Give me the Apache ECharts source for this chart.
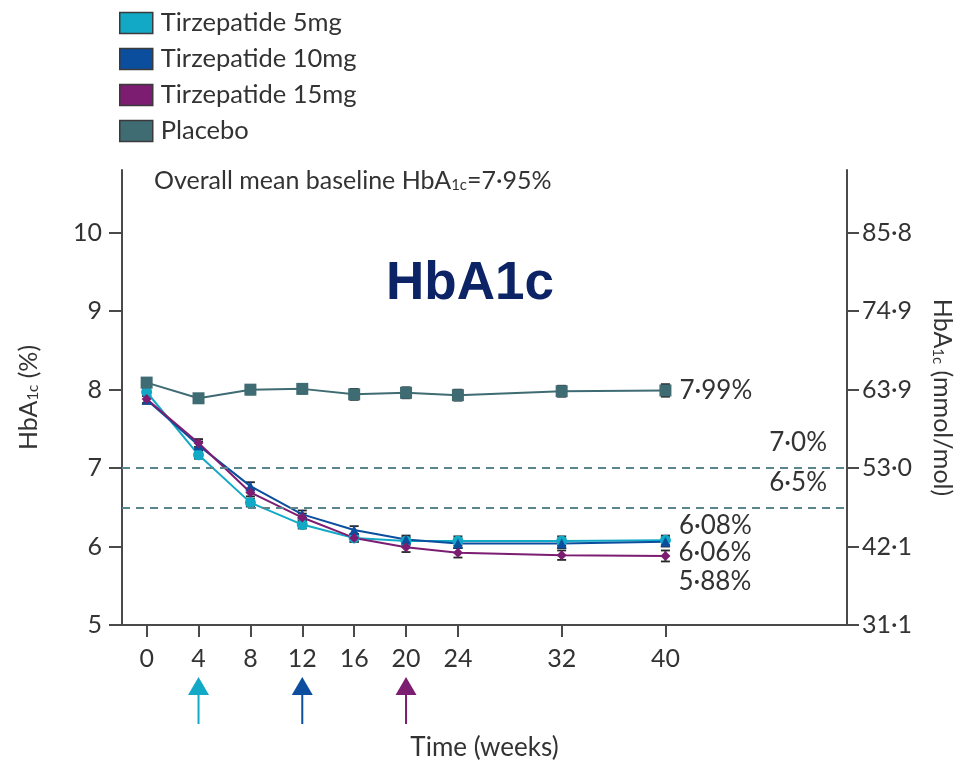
<!DOCTYPE html>
<html>
<head>
<meta charset="utf-8">
<script src="https://cdn.jsdelivr.net/npm/echarts@6/dist/echarts.min.js"></script>
<style>
  html, body { margin: 0; padding: 0; background: #fff; }
  #chart { width: 964px; height: 764px; }
</style>
</head>
<body>
<div id="chart"></div>
<script>
// HbA1c over 40 weeks, mean (± SE) per treatment arm
const weeks = [0, 4, 8, 12, 16, 20, 24, 32, 40];
const placebo = [8.09, 7.89, 8.00, 8.01, 7.94, 7.96, 7.93, 7.98, 7.99];
const tzp5    = [7.97, 7.17, 6.56, 6.28, 6.11, 6.07, 6.07, 6.07, 6.08];
const tzp10   = [7.87, 7.29, 6.77, 6.41, 6.21, 6.09, 6.04, 6.04, 6.06];
const tzp15   = [7.88, 7.32, 6.69, 6.37, 6.11, 5.99, 5.92, 5.89, 5.88];
const sePlacebo = [0.06, 0.05, 0.06, 0.06, 0.07, 0.07, 0.07, 0.07, 0.08];
const se5       = [0.05, 0.05, 0.05, 0.05, 0.05, 0.05, 0.06, 0.06, 0.06];
const se10      = [0.05, 0.05, 0.05, 0.05, 0.05, 0.05, 0.06, 0.06, 0.06];
const se15      = [0.05, 0.05, 0.05, 0.05, 0.05, 0.06, 0.06, 0.06, 0.07];

const yTicks = [5, 6, 7, 8, 9, 10];
const mmolTicks = ['31·1', '42·1', '53·0', '63·9', '74·9', '85·8'];
const targetLines = [7.0, 6.5];
const doseStartWeeks = [4, 12, 20];

const FONT = 'Lato';
const TXT = '#333333';
const AXIS = '#4a4a4a';

const arms = [
  { name: 'Tirzepatide 5mg',  vals: tzp5,    se: se5,       color: '#12a9c7', symbol: 'circle',   size: 11, off: -15 },
  { name: 'Tirzepatide 10mg', vals: tzp10,   se: se10,      color: '#0b4e9e', symbol: 'triangle', size: 10, off: 11 },
  { name: 'Tirzepatide 15mg', vals: tzp15,   se: se15,      color: '#7c1d72', symbol: 'diamond',  size: 10, off: 26 },
  { name: 'Placebo',          vals: placebo, se: sePlacebo, color: '#3f6b73', symbol: 'rect',     size: 12, off: 0 }
];

const fmtPct = (v, d) => v.toFixed(d).replace('.', '·') + '%';

const series = [];

// error bars (drawn beneath the markers)
arms.forEach(a => {
  series.push({
    type: 'custom',
    name: a.name + ' SE',
    z: 2,
    clip: false,
    data: weeks.map((w, i) => [w, a.vals[i] - a.se[i], a.vals[i] + a.se[i]]),
    renderItem: (params, api) => {
      const lo = api.coord([api.value(0), api.value(1)]);
      const hi = api.coord([api.value(0), api.value(2)]);
      const hw = 4.5;
      const st = { stroke: '#262626', lineWidth: 1.8 };
      return {
        type: 'group',
        children: [
          { type: 'line', shape: { x1: lo[0], y1: lo[1], x2: hi[0], y2: hi[1] }, style: st },
          { type: 'line', shape: { x1: lo[0] - hw, y1: lo[1], x2: lo[0] + hw, y2: lo[1] }, style: st },
          { type: 'line', shape: { x1: hi[0] - hw, y1: hi[1], x2: hi[0] + hw, y2: hi[1] }, style: st }
        ]
      };
    }
  });
});

// mean lines with end-of-study labels
arms.forEach(a => {
  const last = weeks.length - 1;
  series.push({
    type: 'line',
    name: a.name,
    z: 3,
    symbol: a.symbol,
    symbolSize: a.size,
    showAllSymbol: true,
    lineStyle: { color: a.color, width: 2 },
    itemStyle: { color: a.color },
    emphasis: { disabled: true },
    data: weeks.map((w, i) => {
      if (i !== last) return [w, a.vals[i]];
      return {
        value: [w, a.vals[i]],
        label: {
          show: true,
          position: 'right',
          distance: 8,
          offset: [0, a.off],
          formatter: p => fmtPct(p.value[1], 2),
          color: TXT,
          fontFamily: FONT,
          fontSize: 26
        }
      };
    }),
    markLine: a.name === 'Placebo' ? {
      silent: true,
      symbol: 'none',
      lineStyle: { color: '#5b858c', type: [8, 6], width: 2 },
      label: {
        position: 'insideEndTop',
        distance: [20, 12],
        formatter: p => fmtPct(p.value, 1),
        color: TXT,
        fontFamily: FONT,
        fontSize: 26
      },
      data: targetLines.map(v => ({ yAxis: v }))
    } : undefined
  });
});

// arrows marking the start of each maintenance dose
const arrowColors = ['#12a9c7', '#0b4e9e', '#7c1d72'];
series.push({
  type: 'custom',
  name: 'dose arrows',
  clip: false,
  z: 5,
  data: doseStartWeeks.map((w, i) => [w, 5, i]),
  renderItem: (params, api) => {
    const p = api.coord([api.value(0), api.value(1)]);
    const c = arrowColors[api.value(2)];
    const top = p[1] + 52, headB = p[1] + 70, bot = p[1] + 99;
    return {
      type: 'group',
      children: [
        { type: 'polygon', shape: { points: [[p[0], top], [p[0] - 10.5, headB], [p[0] + 10.5, headB]] }, style: { fill: c } },
        { type: 'line', shape: { x1: p[0], y1: headB, x2: p[0], y2: bot }, style: { stroke: c, lineWidth: 2 } }
      ]
    };
  }
});

const axisLabelBase = { color: TXT, fontFamily: FONT, fontSize: 25 };
const nameRich = {
  a: { color: TXT, fontFamily: FONT, fontSize: 25 },
  s: { color: TXT, fontFamily: FONT, fontSize: 15, verticalAlign: 'bottom', padding: [9, 0, 0, 0] }
};

const option = {
  animation: false,
  backgroundColor: '#ffffff',
  title: {
    text: 'HbA1c',
    left: 386,
    top: 258,
    padding: 0,
    textStyle: { fontFamily: 'Liberation Sans', fontWeight: 'bold', fontSize: 53, color: '#0c2365' }
  },
  legend: {
    orient: 'vertical',
    left: 119,
    top: 10,
    padding: 0,
    itemWidth: 33,
    itemHeight: 21,
    itemGap: 10,
    icon: 'rect',
    selectedMode: false,
    itemStyle: { borderColor: '#3a3a3a', borderWidth: 1.5 },
    textStyle: { color: TXT, fontFamily: FONT, fontSize: 25.5, padding: [0, 0, 0, 3] },
    data: arms.map(a => a.name)
  },
  graphic: [{
    type: 'text',
    left: 154,
    top: 168,
    style: {
      text: '{a|Overall mean baseline HbA}{s|1c}{a|=7·95%}',
      rich: {
        a: { fontFamily: FONT, fontSize: 25, fill: TXT },
        s: { fontFamily: FONT, fontSize: 15, fill: TXT, verticalAlign: 'bottom', padding: [9, 0, 0, 0] }
      }
    }
  }],
  grid: { left: 122, right: 117, top: 170, bottom: 139, containLabel: false, outerBoundsMode: 'none' },
  xAxis: {
    type: 'value',
    min: -1.9,
    max: 54,
    name: 'Time (weeks)',
    nameLocation: 'middle',
    nameGap: 110,
    nameMoveOverlap: false,
    nameTextStyle: { color: TXT, fontFamily: FONT, fontSize: 26 },
    splitLine: { show: false },
    axisLine: { onZero: false, lineStyle: { color: AXIS, width: 2 } },
    axisTick: { customValues: weeks, length: 12, lineStyle: { color: AXIS, width: 2 } },
    axisLabel: Object.assign({ customValues: weeks, margin: 21 }, axisLabelBase)
  },
  yAxis: [{
    type: 'value',
    min: 5,
    max: 10.8,
    position: 'left',
    name: '{a|HbA}{s|1c}{a| (%)}',
    nameLocation: 'middle',
    nameGap: 81,
    nameMoveOverlap: false,
    nameTextStyle: { rich: nameRich },
    splitLine: { show: false },
    axisLine: { show: true, onZero: false, lineStyle: { color: AXIS, width: 2 } },
    axisTick: { show: true, customValues: yTicks, length: 13, lineStyle: { color: AXIS, width: 2 } },
    axisLabel: Object.assign({ customValues: yTicks, margin: 20 }, axisLabelBase)
  }, {
    type: 'value',
    min: 5,
    max: 10.8,
    position: 'right',
    name: '{a|HbA}{s|1c}{a| (mmol/mol)}',
    nameLocation: 'middle',
    nameRotate: -90,
    nameGap: 83,
    nameMoveOverlap: false,
    nameTextStyle: { rich: nameRich },
    splitLine: { show: false },
    axisLine: { show: true, onZero: false, lineStyle: { color: AXIS, width: 2 } },
    axisTick: { show: true, customValues: yTicks, length: 12, lineStyle: { color: AXIS, width: 2 } },
    axisLabel: Object.assign({
      customValues: yTicks,
      margin: 15,
      formatter: v => mmolTicks[yTicks.indexOf(Math.round(v))] || ''
    }, axisLabelBase)
  }],
  series: series
};

const chart = echarts.init(document.getElementById('chart'), null, { renderer: 'canvas' });
chart.setOption(option);
</script>
</body>
</html>
